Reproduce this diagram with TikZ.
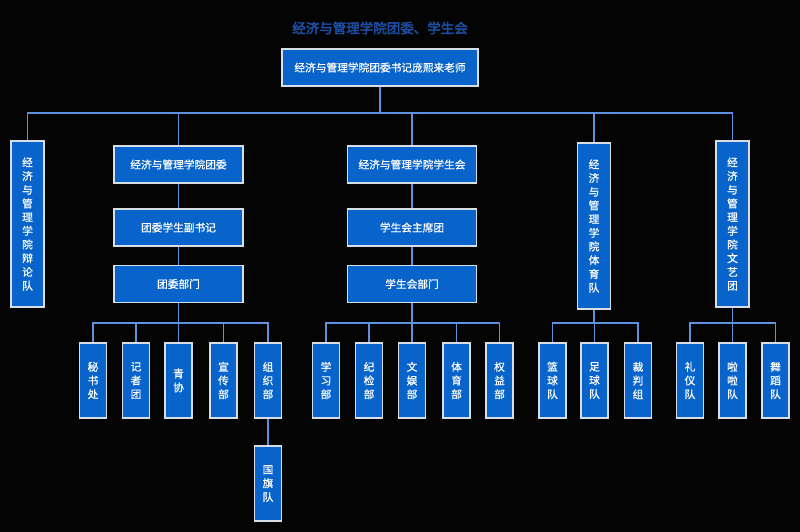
\documentclass[tikz,border=0pt]{standalone}
\usepackage{fontspec}
\newfontfamily\cjk{Noto Sans CJK SC}[FakeBold=0.6]
\newfontfamily\cjktitle{Noto Sans CJK SC}[FakeBold=3]
\definecolor{bg}{RGB}{4,4,4}
\definecolor{boxfill}{RGB}{8,100,202}
\definecolor{boxedge}{RGB}{215,222,230}
\definecolor{conncol}{RGB}{95,145,225}
\definecolor{titlecol}{RGB}{28,78,165}
\tikzset{
  box/.style={draw=boxedge, line width=1.1pt, fill=boxfill, text=white, inner sep=0pt,
    font=\cjk\fontsize{10.7}{13.7}\selectfont, align=center},
  hbox/.style={box, minimum width=129pt, minimum height=37pt},
  tallbox/.style={box, minimum width=33pt, minimum height=166pt},
  smallbox/.style={box, minimum width=27pt, minimum height=75pt},
  conn/.style={draw=conncol, line width=1.5pt},
}
\begin{document}
\begin{tikzpicture}[x=1pt,y=-1pt]
\fill[bg] (0,0) rectangle (800,532);
\useasboundingbox (0,0) rectangle (800,532);
% title
\node[text=titlecol, font=\cjktitle\fontsize{13.5}{15}\selectfont] (title) at (380,28) {经济与管理学院团委、学生会};
% top
\node[box, minimum width=196pt, minimum height=37pt] (top) at (380,67.5) {经济与管理学院团委书记庞熙来老师};
% level 2
\node[tallbox] (debate) at (27.5,224) {经\\济\\与\\管\\理\\学\\院\\辩\\论\\队};
\node[hbox] (tw) at (178.5,164.5) {经济与管理学院团委};
\node[hbox] (xsh) at (412,164.5) {经济与管理学院学生会};
\node[tallbox] (tyd) at (594,226) {经\\济\\与\\管\\理\\学\\院\\体\\育\\队};
\node[tallbox] (wyt) at (732.5,224) {经\\济\\与\\管\\理\\学\\院\\文\\艺\\团};
% chains
\node[hbox] (twfsj) at (178.5,227.5) {团委学生副书记};
\node[hbox] (twbm) at (178.5,284) {团委部门};
\node[hbox] (zxt) at (412,227.5) {学生会主席团};
\node[hbox] (xshbm) at (412,284) {学生会部门};
% bottom
\node[smallbox] (msc) at (93,380.5) {秘\\书\\处};
\node[smallbox] (jzt) at (136,380.5) {记\\者\\团};
\node[smallbox] (qx) at (178.5,380.5) {青\\协};
\node[smallbox] (xcb) at (223.5,380.5) {宣\\传\\部};
\node[smallbox] (zzb) at (268,380.5) {组\\织\\部};
\node[smallbox] (gqd) at (268,483.5) {国\\旗\\队};
\node[smallbox] (xxb) at (326,380.5) {学\\习\\部};
\node[smallbox] (jjb) at (369,380.5) {纪\\检\\部};
\node[smallbox] (wyb) at (412,380.5) {文\\娱\\部};
\node[smallbox] (tyb) at (456.5,380.5) {体\\育\\部};
\node[smallbox] (qyb) at (499.5,380.5) {权\\益\\部};
\node[smallbox] (lqd) at (552.5,380.5) {篮\\球\\队};
\node[smallbox] (zqd) at (594.5,380.5) {足\\球\\队};
\node[smallbox] (cpz) at (638,380.5) {裁\\判\\组};
\node[smallbox] (lyd) at (690,380.5) {礼\\仪\\队};
\node[smallbox] (lld) at (732.5,380.5) {啦\\啦\\队};
\node[smallbox] (wdd) at (775.5,380.5) {舞\\蹈\\队};
% bus coordinates
\coordinate (bus1) at (0,113);
\coordinate (bus2) at (0,323);
% connectors
\foreach \c in {debate,tw,xsh,tyd,wyt}
  \draw[conn] (top.south) -- (top.south |- bus1) -| (\c.north);
\draw[conn] (tw.south) -- (twfsj.north);
\draw[conn] (twfsj.south) -- (twbm.north);
\draw[conn] (xsh.south) -- (zxt.north);
\draw[conn] (zxt.south) -- (xshbm.north);
\foreach \c in {msc,jzt,qx,xcb,zzb}
  \draw[conn] (twbm.south) -- (twbm.south |- bus2) -| (\c.north);
\draw[conn] (zzb.south) -- (gqd.north);
\foreach \c in {xxb,jjb,wyb,tyb,qyb}
  \draw[conn] (xshbm.south) -- (xshbm.south |- bus2) -| (\c.north);
\foreach \c in {lqd,zqd,cpz}
  \draw[conn] (tyd.south) -- (tyd.south |- bus2) -| (\c.north);
\foreach \c in {lyd,lld,wdd}
  \draw[conn] (wyt.south) -- (wyt.south |- bus2) -| (\c.north);
\end{tikzpicture}
\end{document}
